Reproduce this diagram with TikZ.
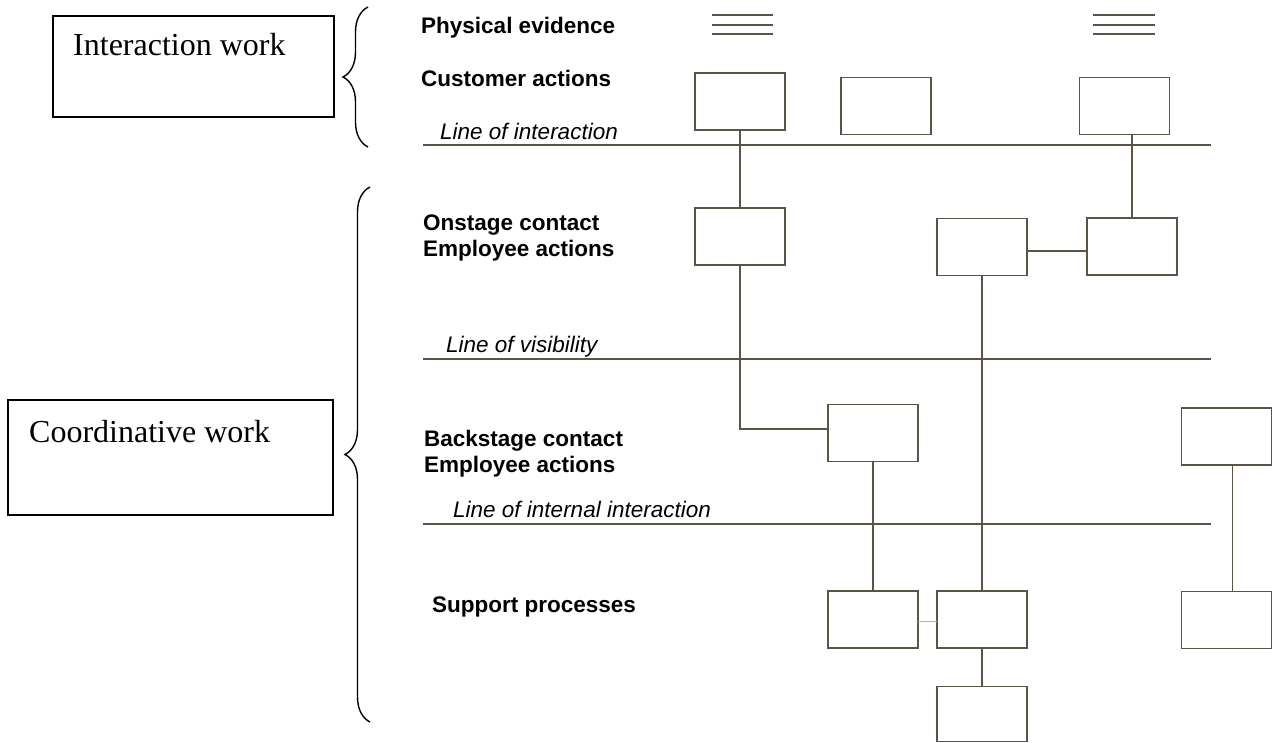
\documentclass[tikz,border=0pt]{standalone}
\usepackage{fontspec}
\setmainfont{Liberation Serif}
\setsansfont{Liberation Sans}
\usetikzlibrary{decorations.pathreplacing}
\definecolor{bpline}{RGB}{90,85,70}
\definecolor{bplight}{RGB}{185,178,160}

\tikzset{
  actbox/.style={draw=bpline, line width=1.5pt, minimum width=90pt,
                 minimum height=57pt, inner sep=0pt, outer sep=0pt},
  workbox/.style={draw=black, line width=1.2pt, inner sep=0pt, outer sep=0pt},
  worktxt/.style={font=\fontsize{32}{38}\selectfont, inner sep=0pt, anchor=base west},
  link/.style={draw=bpline, line width=1.5pt},
  sepline/.style={draw=bpline, line width=1.6pt},
  evline/.style={draw=bpline, line width=1.6pt},
  lanelbl/.style={font=\sffamily\bfseries\fontsize{22.5}{26.5}\selectfont,
                  inner sep=0pt, align=left},
  lineof/.style={font=\sffamily\itshape\fontsize{22.5}{26}\selectfont,
                 inner sep=0pt, anchor=base west},
  workbrace/.style={draw=black, line width=1.4pt,
                    decorate, decoration={brace, amplitude=25pt}}
}

\begin{document}
\begin{tikzpicture}[x=1pt, y=-1pt]
  \useasboundingbox (0,0) rectangle (1273,742);

  % left side: kinds of work
  \node[workbox, minimum width=281pt, minimum height=101pt] (iwbox) at (193.5,66.5) {};
  \node[worktxt, xshift=20pt, yshift=-39pt] at (iwbox.north west) {Interaction work};
  \node[workbox, minimum width=325pt, minimum height=115pt] (cwbox) at (170.5,457.5) {};
  \node[worktxt, xshift=21pt, yshift=-42pt] at (cwbox.north west) {Coordinative work};
  \draw[workbrace] (368,147) -- (368,7);
  \draw[workbrace] (370,722) -- (370,187);

  % lane labels
  \node[lanelbl, anchor=base west] at (421,33) {Physical evidence};
  \node[lanelbl, anchor=base west] at (421,86) {Customer actions};
  \node[lineof] at (440,139) {Line of interaction};
  \node[lanelbl, anchor=north west] at (423,214.5) {Onstage contact\\Employee actions};
  \node[lineof] at (446,352) {Line of visibility};
  \node[lanelbl, anchor=north west] at (424,429.5) {Backstage contact\\Employee actions};
  \node[lineof] at (453,517) {Line of internal interaction};
  \node[lanelbl, anchor=base west] at (432,612) {Support processes};

  % separating lines
  \foreach \y in {145,359,524}
    \draw[sepline] (423,\y) -- (1211,\y);

  % physical evidence marks
  \foreach \y in {15,25,34} {
    \draw[evline] (712,\y) -- (773,\y);
    \draw[evline] (1093,\y) -- (1155,\y);
  }

  % action boxes
  \node[actbox] (ca1) at (740,101.5) {};
  \node[actbox] (ca2) at (886,106) {};
  \node[actbox] (ca3) at (1124.5,106) {};
  \node[actbox] (on1) at (740,236.5) {};
  \node[actbox] (on2) at (982,247) {};
  \node[actbox] (on3) at (1132,246.5) {};
  \node[actbox] (bs1) at (873,433) {};
  \node[actbox] (bs2) at (1226.5,436.5) {};
  \node[actbox] (sp1) at (873,619.5) {};
  \node[actbox] (sp2) at (982,619.5) {};
  \node[actbox] (sp3) at (1226.5,620) {};
  \node[actbox, minimum height=55pt] (sp4) at (982,714) {};

  % connectors
  \draw[link] (ca1.south) -- (on1.north);
  \draw[link] (on3.north) -- (on3.north |- ca3.south);
  \draw[link] ([yshift=-4pt]on2.east) -- ([yshift=-4pt]on2.east -| on3.west);
  \draw[link] (on1.south) |- ([yshift=4pt]bs1.west);
  \draw[link] (on2.south) -- (sp2.north);
  \draw[link] (bs1.south) -- (sp1.north);
  \draw[link, draw=bplight] ([yshift=-2pt]sp1.east) -- ([yshift=-2pt]sp2.west);
  \draw[link] (sp2.south) -- (sp4.north);
  \draw[link] ([xshift=6pt]bs2.south) -- ([xshift=6pt]sp3.north);
\end{tikzpicture}
\end{document}
